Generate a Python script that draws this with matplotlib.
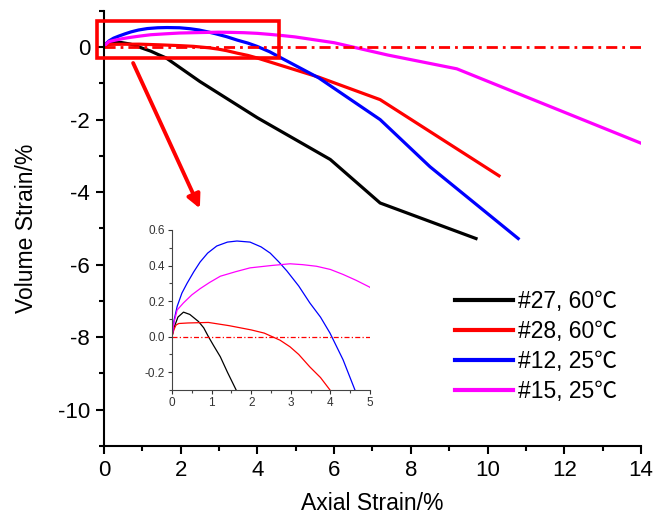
import matplotlib
matplotlib.use("Agg")
import matplotlib.pyplot as plt
from matplotlib.ticker import MultipleLocator
from matplotlib.patches import Rectangle, FancyArrowPatch

plt.rcParams['font.family'] = ['Liberation Sans', 'Noto Sans CJK SC', 'DejaVu Sans']
plt.rcParams['axes.unicode_minus'] = False

labels = ['#27, 60℃', '#28, 60℃', '#12, 25℃', '#15, 25℃']
colors = ['black', 'red', 'blue', 'magenta']

x27 = [0, 0.05, 0.15, 0.29, 0.45, 0.67, 0.8, 0.92, 1.05, 1.22, 1.4, 1.62, 2.5, 4.0, 5.9, 7.2, 9.7]
y27 = [0, 0.05, 0.11, 0.138, 0.125, 0.085, 0.05, 0.0, -0.05, -0.113, -0.2, -0.3, -0.95, -1.95, -3.1, -4.3, -5.28]

x28 = [0, 0.05, 0.1, 0.17, 0.4, 0.92, 1.44, 2.0, 2.33, 2.73, 2.98, 3.2, 3.48, 3.75, 3.99, 5.6, 7.2, 10.3]
y28 = [0, 0.04, 0.065, 0.074, 0.077, 0.08, 0.062, 0.038, 0.02, -0.02, -0.057, -0.1, -0.17, -0.23, -0.3, -0.83, -1.45, -3.55]

x12 = [0, 0.05, 0.13, 0.25, 0.38, 0.55, 0.71, 0.9, 1.13, 1.4, 1.64, 1.97, 2.25, 2.48, 2.7, 2.9, 3.2, 3.48, 3.75, 3.99, 4.32, 4.62, 5.6, 7.2, 8.5, 10.8]
y12 = [0, 0.09, 0.17, 0.245, 0.30, 0.365, 0.42, 0.47, 0.51, 0.532, 0.538, 0.532, 0.505, 0.47, 0.42, 0.37, 0.285, 0.19, 0.11, 0.02, -0.13, -0.30, -0.85, -2.0, -3.3, -5.28]

x15 = [0, 0.05, 0.13, 0.29, 0.5, 0.71, 0.95, 1.22, 1.6, 1.97, 2.5, 2.98, 3.3, 3.65, 4.0, 4.32, 4.65, 4.98, 6.0, 7.4, 9.2, 14.0]
y15 = [0, 0.08, 0.15, 0.19, 0.235, 0.27, 0.305, 0.34, 0.365, 0.387, 0.40, 0.41, 0.405, 0.396, 0.378, 0.35, 0.317, 0.28, 0.12, -0.22, -0.6, -2.65]

series = [(x27, y27), (x28, y28), (x12, y12), (x15, y15)]
dashdot = (0, (4, 1.8, 1, 1.8))

fig = plt.figure(figsize=(6.54, 5.19), dpi=100)
ax = fig.add_axes([0.159, 0.1407, 0.821, 0.8385])

for (xs, ys), c, lab in zip(series, colors, labels):
    ax.plot(xs, ys, color=c, lw=2.3, label=lab, solid_joinstyle='round')
ax.plot([0, 14], [0, 0], color='red', lw=2.0, ls=dashdot)

ax.set_xlim(0, 14)
ax.set_ylim(-11, 1.0)
ax.xaxis.set_major_locator(MultipleLocator(2))
ax.xaxis.set_minor_locator(MultipleLocator(1))
ax.yaxis.set_major_locator(MultipleLocator(2))
ax.yaxis.set_minor_locator(MultipleLocator(1))
for s in ['top', 'right']:
    ax.spines[s].set_visible(False)
for s in ['left', 'bottom']:
    ax.spines[s].set_linewidth(1.5)
ax.tick_params(which='major', direction='out', length=6, width=1.5, labelsize=16, pad=4)
ax.tick_params(which='minor', direction='out', length=3.8, width=1.5)
ax.set_xlabel('Axial Strain/%', fontsize=16.5, labelpad=8)
ax.set_ylabel('Volume Strain/%', fontsize=16.5, labelpad=14)

leg = ax.legend(loc='upper left', bbox_to_anchor=(455 / 654, 1 - 290 / 519),
                bbox_transform=fig.transFigure, frameon=False,
                fontsize=16.5, handlelength=2.55, handletextpad=0.18,
                labelspacing=0.3, borderpad=0, borderaxespad=0)
for h in leg.get_lines():
    h.set_linewidth(3)

# zoom rectangle and arrow
ax.add_patch(Rectangle((-0.18, -0.30), 4.74, 1.02, fill=False, ec='red', lw=2.6,
                       clip_on=False, zorder=5))
ax.add_patch(FancyArrowPatch((0.76, -0.44), (2.5, -4.45), arrowstyle='-|>',
                             mutation_scale=20, color='red', lw=2.8, zorder=5,
                             shrinkA=0, shrinkB=0))

# inset
ins = fig.add_axes([172 / 654, 1 - 390 / 519, 198 / 654, 160 / 519])
for (xs, ys), c in zip(series, colors):
    ins.plot(xs, ys, color=c, lw=0.9)
ins.plot([0, 5], [0, 0], color='red', lw=0.9, ls=dashdot)
ins.set_xlim(0, 5)
ins.set_ylim(-0.3, 0.6)
ins.xaxis.set_major_locator(MultipleLocator(1))
ins.xaxis.set_minor_locator(MultipleLocator(0.5))
ins.yaxis.set_major_locator(MultipleLocator(0.2))
ins.yaxis.set_minor_locator(MultipleLocator(0.1))
ins.set_yticks([-0.2, 0.0, 0.2, 0.4, 0.6])
ins.set_yticklabels(['-0.2', '0.0', '0.2', '0.4', '0.6'])
for s in ['top', 'right']:
    ins.spines[s].set_visible(False)
for s in ['left', 'bottom']:
    ins.spines[s].set_linewidth(0.8)
    ins.spines[s].set_color('#444444')
ins.tick_params(which='major', direction='out', length=3, width=0.8, labelsize=8.5,
                colors='#333333', pad=2)
ins.tick_params(which='minor', direction='out', length=2, width=0.8, colors='#444444')
ins.patch.set_alpha(0)

fig.savefig('out.png', dpi=100)
